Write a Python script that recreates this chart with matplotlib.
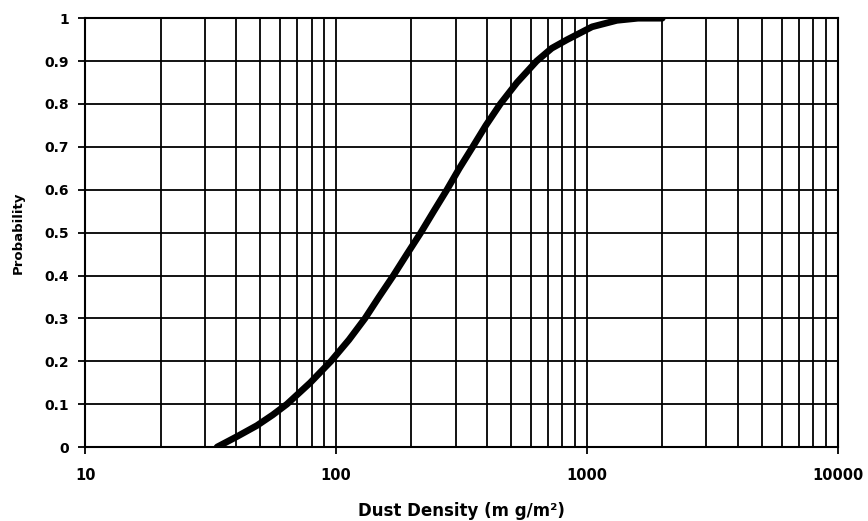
import matplotlib
matplotlib.use("Agg")
import matplotlib.pyplot as plt
from matplotlib.ticker import FixedLocator, LogLocator, NullFormatter

# values
density = [33.6, 40.5, 48.4, 56, 63.8, 79, 95.5, 112.7, 130.6, 148.5, 169.5, 192, 218,
           245.5, 277, 310.5, 351, 396, 452, 527, 631, 725, 835, 1050, 1318, 1600, 2000]
prob = [0.0, 0.025, 0.05, 0.075, 0.1, 0.15, 0.2, 0.25, 0.3, 0.35, 0.4, 0.45, 0.5,
        0.55, 0.6, 0.65, 0.7, 0.75, 0.8, 0.85, 0.9, 0.93, 0.95, 0.98, 0.995, 1.0, 1.0]

xticks = [10, 100, 1000, 10000]
xticklabels = ["10", "100", "1000", "10000"]
yticks = [0, 0.1, 0.2, 0.3, 0.4, 0.5, 0.6, 0.7, 0.8, 0.9, 1.0]
yticklabels = ["0", "0.1", "0.2", "0.3", "0.4", "0.5", "0.6", "0.7", "0.8", "0.9", "1"]

plt.rcParams['font.family'] = ['DejaVu Sans']
plt.rcParams['font.weight'] = 'bold'

fig = plt.figure(figsize=(8.68, 5.21), dpi=100)
ax = fig.add_axes([0.098, 0.142, 0.867, 0.823])

ax.plot(density, prob, color='black', linewidth=4.8, solid_capstyle='round',
        solid_joinstyle='round', zorder=3)

ax.set_xscale('log')
ax.set_xlim(10, 10000)
ax.set_ylim(0, 1)

ax.xaxis.set_major_locator(FixedLocator(xticks))
ax.set_xticklabels(xticklabels)
ax.xaxis.set_minor_locator(LogLocator(base=10, subs=range(2, 10)))
ax.xaxis.set_minor_formatter(NullFormatter())
ax.set_yticks(yticks)
ax.set_yticklabels(yticklabels)

ax.grid(which='both', axis='x', color='black', linewidth=1.3)
ax.grid(which='major', axis='y', color='black', linewidth=1.3)
ax.tick_params(which='major', length=5, width=1.3, direction='out')
ax.tick_params(axis='x', labelsize=10.5, pad=10)
ax.tick_params(axis='y', labelsize=10, pad=6.5)
ax.tick_params(which='minor', length=0)
for s in ax.spines.values():
    s.set_linewidth(1.5)
    s.set_color('black')

ax.set_xlabel("Dust Density (m g/m²)", fontsize=12, fontweight='bold', labelpad=14)
ax.set_ylabel("Probability", fontsize=9.5, fontweight='bold', labelpad=14)

fig.savefig("out.png", dpi=100)
